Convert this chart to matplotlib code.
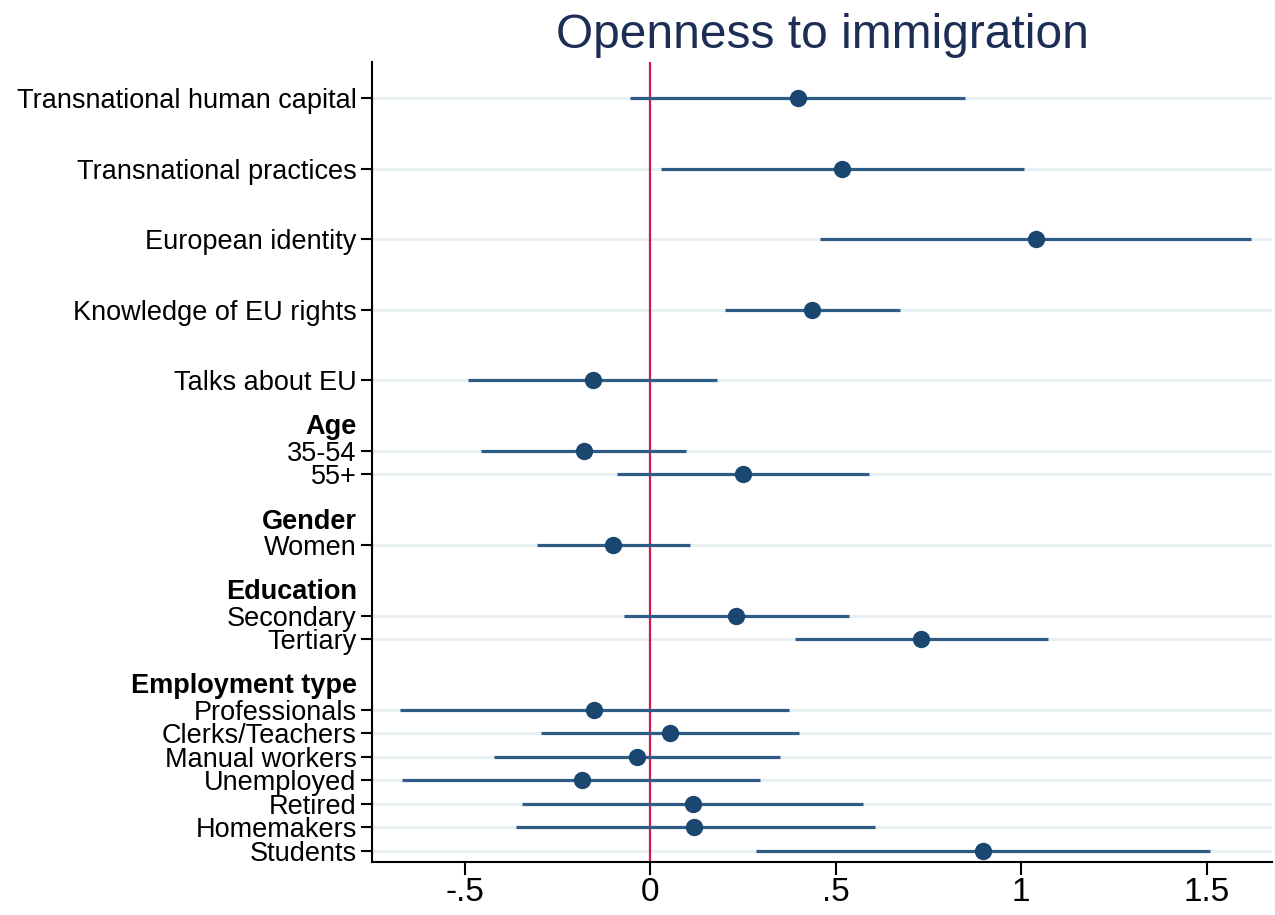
import matplotlib
matplotlib.use("Agg")
import matplotlib.pyplot as plt

# Coefficient estimates with 95% CIs
labels = [
    "Transnational human capital",
    "Transnational practices",
    "European identity",
    "Knowledge of EU rights",
    "Talks about EU",
    "35-54",
    "55+",
    "Women",
    "Secondary",
    "Tertiary",
    "Professionals",
    "Clerks/Teachers",
    "Manual workers",
    "Unemployed",
    "Retired",
    "Homemakers",
    "Students",
]
groups = [
    "", "", "", "", "",
    "Age", "Age",
    "Gender",
    "Education", "Education",
    "Employment type", "Employment type", "Employment type", "Employment type",
    "Employment type", "Employment type", "Employment type",
]
coef = [0.397, 0.517, 1.040, 0.437, -0.154, -0.179, 0.249, -0.100, 0.232, 0.731,
        -0.151, 0.054, -0.035, -0.183, 0.116, 0.118, 0.897]
lower = [-0.054, 0.029, 0.458, 0.201, -0.491, -0.455, -0.089, -0.304, -0.070, 0.390,
         -0.674, -0.294, -0.420, -0.668, -0.345, -0.363, 0.286]
upper = [0.849, 1.008, 1.619, 0.674, 0.181, 0.096, 0.589, 0.107, 0.536, 1.073,
         0.374, 0.401, 0.350, 0.296, 0.574, 0.606, 1.509]
xticks = [-0.5, 0, 0.5, 1, 1.5]
xticklabels = ["-.5", "0", ".5", "1", "1.5"]

navy = "#1a476f"
line_col = "#2f5b87"
grid_col = "#e8f0f3"

plt.rcParams["font.family"] = ["Liberation Sans", "DejaVu Sans"]

# lay out rows: ungrouped rows spaced 3 apart, grouped rows get a header line
ypos = []
headers = []
y = 0
prev_group = None
for i, g in enumerate(groups):
    if i == 0:
        y = 0
    elif g == "":
        y += 3
    elif g != prev_group:
        y += 2
        headers.append((g, y))
        y += 1
    else:
        y += 1
    ypos.append(y)
    prev_group = g

fig = plt.figure(figsize=(12.75, 9.15), dpi=100)
ax = fig.add_axes([372 / 1275, 1 - 862 / 915, 900 / 1275, 800 / 915])

for yy in ypos:
    ax.axhline(yy, color=grid_col, linewidth=2.2, zorder=0)

ax.axvline(0, color="#d2184a", linewidth=1.6, zorder=1)

for yy, c, lo, hi in zip(ypos, coef, lower, upper):
    ax.plot([lo, hi], [yy, yy], color=line_col, linewidth=2.3, solid_capstyle="butt", zorder=2)
    ax.plot(c, yy, "o", color=navy, markersize=12.5, markeredgewidth=0, zorder=3)

xmin, xmax = -0.75, 1.676
ax.set_xlim(xmin, xmax)
ax.set_ylim(32.47, -1.53)

ax.set_yticks(ypos)
ax.set_yticklabels(labels, fontsize=19.5)
ax.set_xticks(xticks)
ax.set_xticklabels(xticklabels, fontsize=24)
ax.tick_params(axis="y", length=8, width=1.5, pad=3)
ax.tick_params(axis="x", length=9, width=1.5, pad=2)

# group headers, right-aligned with the tick labels
hdr_x = xmin - (15 / 900) * (xmax - xmin)
for name, yy in headers:
    ax.text(hdr_x, yy, name, ha="right", va="center",
            fontsize=19.5, fontweight="bold")

ax.spines["top"].set_visible(False)
ax.spines["right"].set_visible(False)
ax.spines["left"].set_linewidth(1.5)
ax.spines["bottom"].set_linewidth(1.5)
ax.set_facecolor("white")

ax.set_title("Openness to immigration", fontsize=34.5, color="#1c2e55", pad=10)

fig.savefig("out.png", dpi=100, facecolor="white")
